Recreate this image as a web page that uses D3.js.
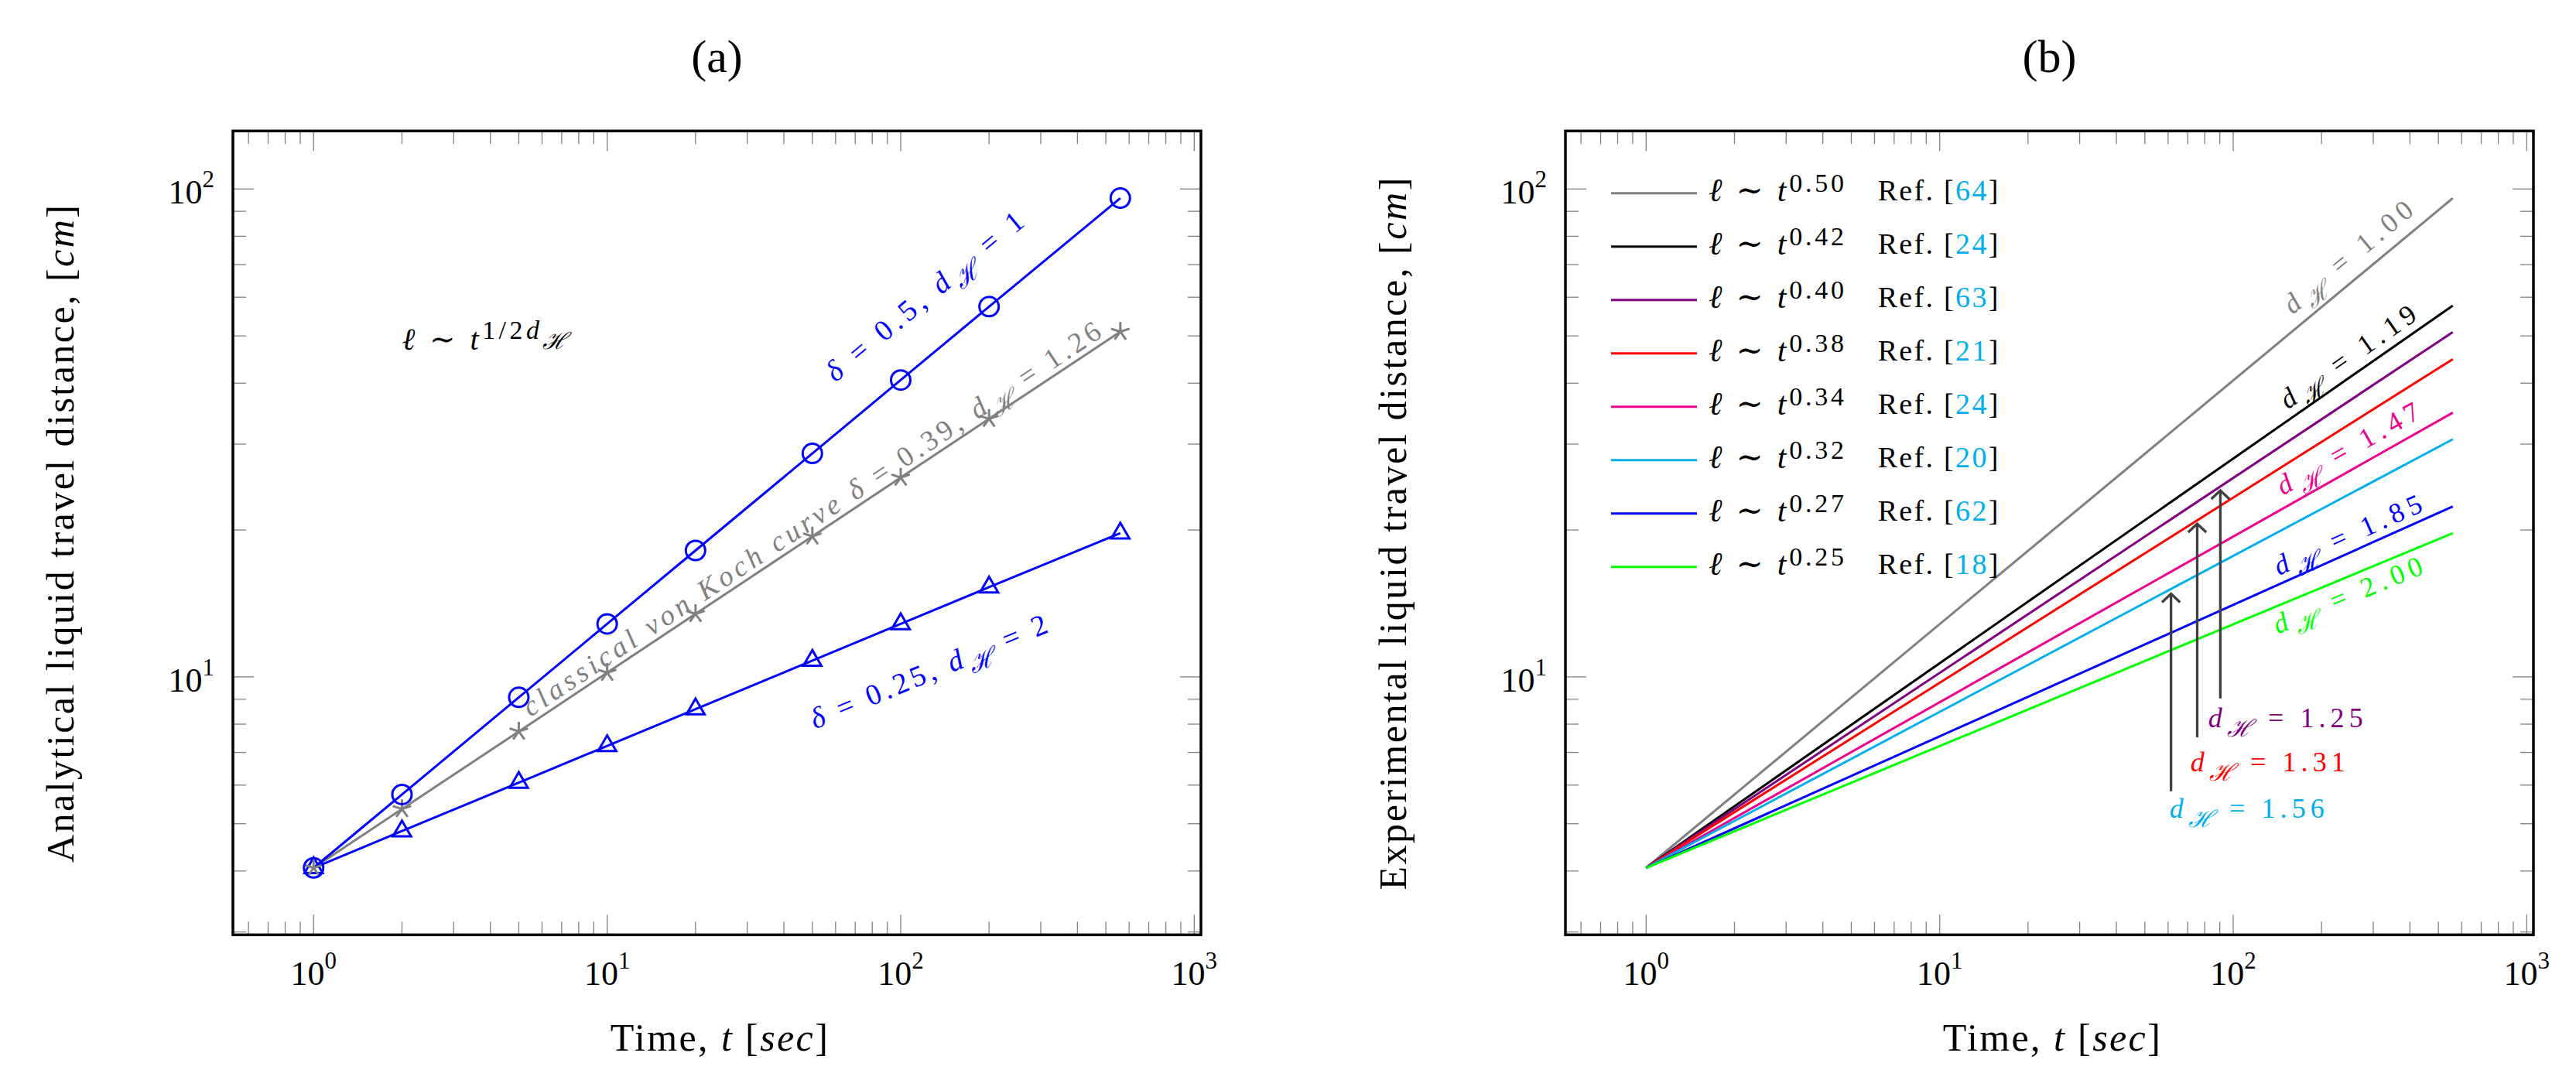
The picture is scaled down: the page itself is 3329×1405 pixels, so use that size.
<!DOCTYPE html>
<html><head><meta charset="utf-8">
<script src="https://cdn.jsdelivr.net/npm/d3@7"></script>
<style>
body{margin:0;background:#fff}
text{font-family:'Liberation Serif','DejaVu Serif',serif}
</style>
</head><body>
<svg id="chart" width="3329" height="1405"></svg>
<script>
// ---------------- data ----------------
const timeA = [1, 2, 5, 10, 20, 50, 100, 200, 560];
const lenCircle = [4.06, 5.74, 9.08, 12.84, 18.16, 28.71, 40.6, 57.4, 95.8];
const lenStar   = [4.06, 5.36, 7.73, 10.2, 13.46, 19.41, 25.62, 33.8, 51.0];
const lenTri    = [4.06, 4.83, 6.07, 7.22, 8.59, 10.8, 12.84, 15.27, 19.7];

const timeB = [1, 560];
const startB = [4.06, 4.06, 4.06, 4.06, 4.06, 4.06, 4.06, 4.06];
const endB   = [95.8, 57.7, 50.9, 44.8, 34.8, 30.7, 22.35, 19.7];
const exponentsB = ["0.50", "0.42", "0.40", "0.38", "0.34", "0.32", "0.27", "0.25"];
const refsB = ["64", "24", "63", "21", "24", "20", "62", "18"];
const colorsB = ["#808080", "#000000", "#800080", "#ff0000", "#ec008c", "#00aeef", "#0000ff", "#00ff00"];

// sloped d_H labels in (b): series index, text, anchor time
const slopeLabelSeries = [0, 1, 4, 6, 7];
const slopeLabelText = ["1.00", "1.19", "1.47", "1.85", "2.00"];
const slopeLabelT = [251, 251, 251, 251, 251];

// arrows in (b)
const arrowSeries = [5, 3, 2];
const arrowText = ["1.56", "1.31", "1.25"];
const arrowT = [61.4, 75.4, 90.4];
const arrowFrom = [5.83, 7.52, 9.03];
const arrowTo = [14.8, 20.6, 24.1];
const arrowLabelT = [60.7, 71.5, 82.2];
const arrowLabelL = [5.14, 6.40, 7.88];

const xTickExps = [0, 1, 2, 3];
const yTickExps = [1, 2];
const xDomain = [0.531, 1054];
const yDomain = [2.96, 131.5];
const formulaPos = [2, 46.9];

// ---------------- layout ----------------
const svg = d3.select("#chart");
const TOP = 169.3, PW = 1251, PH = 1039;
const panelLeft = [301, 2023];
const TICKGRAY = "#808080";

function makeScales(left) {
  const sx = d3.scaleLog().domain(xDomain).range([left, left + PW]);
  const sy = d3.scaleLog().domain(yDomain).range([TOP + PH, TOP]);
  return {sx, sy};
}

// text with italic / sup / sub parts
function mathText(parent, parts, fs, attrs) {
  const t = parent.append("text").attr("font-size", fs);
  Object.entries(attrs || {}).forEach(([k, v]) => t.attr(k, v));
  let shift = 0;
  parts.forEach(p => {
    const ts = t.append("tspan").text(p.t);
    if (p.it) ts.attr("font-style", "italic");
    if (p.size) ts.attr("font-size", p.size);
    if (p.fill) ts.attr("fill", p.fill);
    const want = p.shift || 0;
    if (want !== shift) { ts.attr("dy", want - shift); shift = want; }
  });
  return t;
}
function fit(t, target) {
  const n = t.node();
  const w = n.getBBox().width;
  const c = n.textContent.length;
  if (c > 1) t.style("letter-spacing", ((target - w) / (c - 1)) + "px");
}
function dH(val, fs, extra) {
  const parts = [{t: "d", it: true}, {t: "ℋ", it: true, size: fs * 0.85, shift: fs * 0.32},
    {t: " = "}, {t: val}];
  return extra ? extra.concat(parts) : parts;
}

function drawFrame(g, sx, sy, left) {
  const bottom = TOP + PH, right = left + PW;
  const majX = xTickExps.map(e => Math.pow(10, e));
  const minX = [];
  for (let k = -1; k <= 3; k++) for (let m = 2; m <= 9; m++) {
    const v = m * Math.pow(10, k);
    if (v > xDomain[0] && v < xDomain[1]) minX.push(v);
  }
  const majY = yTickExps.map(e => Math.pow(10, e));
  const minY = [];
  for (let k = 0; k <= 2; k++) for (let m = 2; m <= 9; m++) {
    const v = m * Math.pow(10, k);
    if (v > yDomain[0] && v < yDomain[1]) minY.push(v);
  }
  const tg = g.append("g").attr("stroke", TICKGRAY).attr("stroke-width", 1.3);
  [[majX, 26], [minX, 17]].forEach(([vals, len]) => vals.forEach(v => {
    const x = sx(v);
    tg.append("line").attr("x1", x).attr("x2", x).attr("y1", TOP).attr("y2", TOP + len);
    tg.append("line").attr("x1", x).attr("x2", x).attr("y1", bottom).attr("y2", bottom - len);
  }));
  [[majY, 27], [minY, 17]].forEach(([vals, len]) => vals.forEach(v => {
    const y = sy(v);
    tg.append("line").attr("y1", y).attr("y2", y).attr("x1", left).attr("x2", left + len);
    tg.append("line").attr("y1", y).attr("y2", y).attr("x1", right).attr("x2", right - len);
  }));
  // tick labels
  xTickExps.forEach(e => {
    mathText(g, [{t: "10"}, {t: String(e), size: 31, shift: -21}], 44,
      {x: sx(Math.pow(10, e)), y: bottom + 64.4, "text-anchor": "middle"});
  });
  yTickExps.forEach(e => {
    mathText(g, [{t: "10"}, {t: String(e), size: 31, shift: -21}], 44,
      {x: left - 24, y: sy(Math.pow(10, e)) + 19, "text-anchor": "end"});
  });
}
function drawBox(g, left) {
  g.append("rect").attr("x", left).attr("y", TOP).attr("width", PW).attr("height", PH)
    .attr("fill", "none").attr("stroke", "#000").attr("stroke-width", 3.5);
}
function axisLabels(g, left, ylab, ylen) {
  const xl = mathText(g, [{t: "Time, "}, {t: "t", it: true}, {t: " ["}, {t: "sec", it: true}, {t: "]"}], 50,
    {x: left + PW / 2 + 4, y: TOP + PH + 150, "text-anchor": "middle"});
  fit(xl, 281);
  const cy = TOP + PH / 2;
  const yl = mathText(g, [{t: ylab}, {t: "["}, {t: "cm", it: true}, {t: "]"}], 50,
    {x: 0, y: 0, "text-anchor": "middle", transform: `translate(${left - 206},${cy}) rotate(-90)`});
  fit(yl, ylen);
}
function title(g, left, s) {
  g.append("text").attr("x", left + PW / 2).attr("y", 93.3).attr("text-anchor", "middle")
    .attr("font-size", 60).text(s);
}
function onLine(ts, vs, t) {
  let i = 0;
  while (i < ts.length - 2 && t > ts[i + 1]) i++;
  const f = (Math.log(t) - Math.log(ts[i])) / (Math.log(ts[i + 1]) - Math.log(ts[i]));
  return {i, v: Math.exp(Math.log(vs[i]) + f * (Math.log(vs[i + 1]) - Math.log(vs[i])))};
}
function slopedLabel(g, sx, sy, ts, vs, t, off, parts, fs, color, len) {
  const p = onLine(ts, vs, t);
  const ang = Math.atan2(sy(vs[p.i + 1]) - sy(vs[p.i]), sx(ts[p.i + 1]) - sx(ts[p.i])) * 180 / Math.PI;
  const gg = g.append("g").attr("transform", `translate(${sx(t)},${sy(p.v) + off}) rotate(${ang})`);
  const tx = mathText(gg, parts, fs, {x: 0, y: fs * 0.3, "text-anchor": "middle", fill: color});
  fit(tx, len);
}

// ================= panel (a) =================
(function () {
  const left = panelLeft[0];
  const {sx, sy} = makeScales(left);
  const g = svg.append("g");
  drawFrame(g, sx, sy, left);
  const line = d3.line().x(d => sx(d[0])).y(d => sy(d[1]));
  const mk = (vals) => timeA.map((t, i) => [t, vals[i]]);

  g.append("path").datum(mk(lenStar)).attr("d", line).attr("fill", "none")
    .attr("stroke", "#808080").attr("stroke-width", 3);
  g.append("path").datum(mk(lenTri)).attr("d", line).attr("fill", "none")
    .attr("stroke", "#0000ff").attr("stroke-width", 3);
  g.append("path").datum(mk(lenCircle)).attr("d", line).attr("fill", "none")
    .attr("stroke", "#0000ff").attr("stroke-width", 3);

  // markers
  const R = 13.5;
  g.append("g").selectAll("path").data(mk(lenTri)).join("path")
    .attr("d", `M0,${-R}L${R * 0.866},${R / 2}L${-R * 0.866},${R / 2}Z`)
    .attr("transform", d => `translate(${sx(d[0])},${sy(d[1])})`)
    .attr("fill", "none").attr("stroke", "#0000ff").attr("stroke-width", 3);
  const starD = d3.range(5).map(k => {
    const a = (-90 + 72 * k) * Math.PI / 180;
    return `M0,0L${12.5 * Math.cos(a)},${12.5 * Math.sin(a)}`;
  }).join("");
  g.append("g").selectAll("path").data(mk(lenStar)).join("path")
    .attr("d", starD).attr("transform", d => `translate(${sx(d[0])},${sy(d[1])})`)
    .attr("fill", "none").attr("stroke", "#808080").attr("stroke-width", 3);
  g.append("g").selectAll("circle").data(mk(lenCircle)).join("circle")
    .attr("cx", d => sx(d[0])).attr("cy", d => sy(d[1])).attr("r", 12.5)
    .attr("fill", "none").attr("stroke", "#0000ff").attr("stroke-width", 3);

  // labels
  slopedLabel(g, sx, sy, timeA, lenCircle, 122.7, -81,
    dH("1", 38, [{t: "δ", it: true}, {t: " = 0.5,  "}]), 38, "#0000ff", 326);
  slopedLabel(g, sx, sy, timeA, lenStar, 50.5, -22,
    dH("1.26", 37, [{t: "classical von Koch curve  ", it: true}, {t: "δ", it: true}, {t: " = 0.39,  "}]),
    37, "#808080", 899);
  slopedLabel(g, sx, sy, timeA, lenTri, 126.5, 78,
    dH("2", 38, [{t: "δ", it: true}, {t: " = 0.25,  "}]), 38, "#0000ff", 333);

  const fm = mathText(g, [{t: "ℓ", it: true}, {t: " ∼ "}, {t: "t", it: true},
      {t: "1/2", size: 34, shift: -14}, {t: "d", it: true, size: 34, shift: -14},
      {t: "ℋ", it: true, size: 30, shift: -1}], 40,
    {x: sx(formulaPos[0]), y: sy(formulaPos[1])});
  fit(fm, 220);

  title(g, left, "(a)");
  axisLabels(g, left, "Analytical liquid travel distance, ", 850);
  drawBox(g, left);
})();

// ================= panel (b) =================
(function () {
  const left = panelLeft[1];
  const {sx, sy} = makeScales(left);
  const g = svg.append("g");
  drawFrame(g, sx, sy, left);
  const line = d3.line().x(d => sx(d[0])).y(d => sy(d[1]));
  const series = exponentsB.map((e, i) => [[timeB[0], startB[i]], [timeB[1], endB[i]]]);

  series.forEach((s, i) => {
    g.append("path").datum(s).attr("d", line).attr("fill", "none")
      .attr("stroke", colorsB[i]).attr("stroke-width", 3);
  });

  // legend
  const lg = g.append("g");
  exponentsB.forEach((e, i) => {
    const y = TOP + 80.4 + i * 69;
    lg.append("line").attr("x1", left + 59).attr("x2", left + 170).attr("y1", y).attr("y2", y)
      .attr("stroke", colorsB[i]).attr("stroke-width", 3);
    const a = mathText(lg, [{t: "ℓ", it: true}, {t: " ∼ "}, {t: "t", it: true},
      {t: e, size: 34, shift: -12}], 42, {x: left + 185, y: y + 10});
    fit(a, 175);
    const b = mathText(lg, [{t: "Ref.  ["}, {t: refsB[i], fill: "#00aeef"}, {t: "]"}], 38,
      {x: left + 403.7, y: y + 9});
    fit(b, 158);
  });

  // sloped d_H labels
  const offs = [-35, -27, -29, -23, 25];
  slopeLabelSeries.forEach((si, k) => {
    slopedLabel(g, sx, sy, timeB, [startB[si], endB[si]], slopeLabelT[k], offs[k],
      dH(slopeLabelText[k], 36), 36, colorsB[si], 206);
  });

  // arrows
  const ag = g.append("g").attr("stroke", "#404040").attr("stroke-width", 3.3).attr("fill", "none");
  arrowT.forEach((t, k) => {
    const x = sx(t), y0 = sy(arrowFrom[k]), y1 = sy(arrowTo[k]);
    ag.append("line").attr("x1", x).attr("x2", x).attr("y1", y0).attr("y2", y1 + 1);
    ag.append("path").attr("d", `M${x - 11.7},${y1 + 11}L${x},${y1}L${x + 11.7},${y1 + 11}`);
    const lt = mathText(g, dH(arrowText[k], 36), 36,
      {x: sx(arrowLabelT[k]), y: sy(arrowLabelL[k]), fill: colorsB[arrowSeries[k]]});
    fit(lt, 200);
  });

  title(g, left, "(b)");
  axisLabels(g, left, "Experimental liquid travel distance, ", 921);
  drawBox(g, left);
})();
</script>
</body></html>
